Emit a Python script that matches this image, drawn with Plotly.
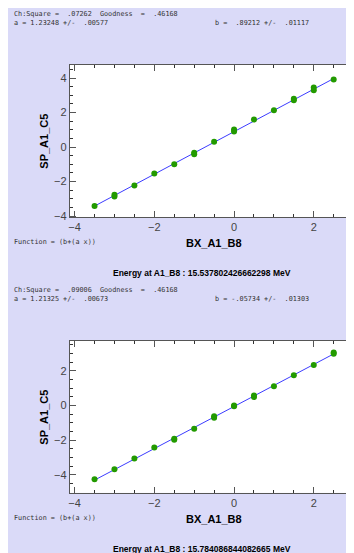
import plotly.graph_objects as go

# fit 1 (top panel)
x1 = [-3.5, -3, -3, -2.5, -2, -1.5, -1, -1, -0.5, 0, 0, 0.5, 1, 1.5, 1.5, 2, 2, 2.5]
y1 = [-3.42, -2.77, -2.87, -2.23, -1.54, -1.0, -0.33, -0.42, 0.31, 1.02, 0.9, 1.6,
      2.13, 2.8, 2.71, 3.46, 3.29, 3.92]
a1, b1 = 1.23248, 0.89212
chi1 = "Ch:Square =  .07262  Goodness  =  .46168"
a1_txt = "a = 1.23248 +/-  .00577"
b1_txt = "b =  .89212 +/-  .01117"
energy1 = "Energy at A1_B8 : 15.537802426662298 MeV"

# fit 2 (bottom panel)
x2 = [-3.5, -3, -2.5, -2, -1.5, -1.5, -1, -0.5, -0.5, 0, 0, 0.5, 0.5, 1, 1.5, 2, 2.5, 2.5]
y2 = [-4.25, -3.68, -3.06, -2.43, -1.92, -1.98, -1.34, -0.62, -0.7, -0.05, 0.0, 0.58,
      0.49, 1.11, 1.75, 2.34, 3.06, 2.98]
a2, b2 = 1.21325, -0.05734
chi2 = "Ch:Square =  .09006  Goodness  =  .46168"
a2_txt = "a = 1.21325 +/-  .00673"
b2_txt = "b = -.05734 +/-  .01303"
energy2 = "Energy at A1_B8 : 15.784086844082665 MeV"

func_txt = "Function = (b+(a x))"
xlabel = "BX_A1_B8"
ylabel = "SP_A1_C5"

W, H = 354, 553
BG = "#dadaf8"
GREEN = "#229a00"
BLUE = "#3c3cff"


def py(px):
    return 1 - px / H


def px_x(px):
    return px / W


fig = go.Figure()

panels = [
    (x1, y1, a1, b1, "x", "y"),
    (x2, y2, a2, b2, "x2", "y2"),
]
for xs, ys, a, b, xa, ya in panels:
    lx = [min(xs), max(xs)]
    fig.add_trace(go.Scatter(x=lx, y=[b + a * v for v in lx], mode="lines",
                             line=dict(color=BLUE, width=1), xaxis=xa, yaxis=ya,
                             showlegend=False, hoverinfo="skip"))
    fig.add_trace(go.Scatter(x=xs, y=ys, mode="markers",
                             marker=dict(color=GREEN, size=6), xaxis=xa, yaxis=ya,
                             showlegend=False))

axis_style = dict(
    showline=True, linecolor="#555555", linewidth=1, mirror="ticks",
    ticks="inside", ticklen=6, tickcolor="#555555", tickwidth=1,
    showgrid=False, zeroline=False,
    tickfont=dict(family="Liberation Sans", size=11, color="#444444"),
    minor=dict(ticks="inside", ticklen=3, dtick=0.5, tickcolor="#333333", showgrid=False),
)

dom_x = [px_x(61), px_x(350)]
fig.update_layout(
    width=W, height=H,
    margin=dict(l=0, r=0, t=0, b=0),
    paper_bgcolor=BG, plot_bgcolor="white",
    xaxis=dict(domain=dom_x, range=[-4.12, 3.11], dtick=2, anchor="y", **axis_style),
    yaxis=dict(domain=[py(211), py(57.3)], range=[-4.06, 4.77], dtick=2, anchor="x", **axis_style),
    xaxis2=dict(domain=dom_x, range=[-4.12, 3.11], dtick=2, anchor="y2", **axis_style),
    yaxis2=dict(domain=[py(489.3), py(335.7)], range=[-5.04, 3.74], dtick=2, anchor="x2", **axis_style),
)

small = dict(family="DejaVu Sans Mono", size=6.8, color="#333333")
bold = dict(family="Liberation Sans", size=11, color="black")


def note(text, x, y, font, xanchor="left", angle=0):
    text = text.replace("  ", "\u00a0\u00a0")
    fig.add_annotation(text=text, x=px_x(x), y=py(y), xref="paper", yref="paper",
                       showarrow=False, xanchor=xanchor, yanchor="middle",
                       font=font, textangle=angle)


texts = [
    (chi1, a1_txt, b1_txt, energy1, 0, 211),
    (chi2, a2_txt, b2_txt, energy2, 279, 489.3),
]
for chi, atxt, btxt, energy, top, axis_bottom in texts:
    note(chi, 3, top + 5.7, small)
    note(atxt, 3, top + 15, small)
    note(btxt, 205, top + 15, small)
    note(func_txt, 3, axis_bottom + 25, small)
    note("<b>" + xlabel + "</b>", 206, axis_bottom + 26, bold, xanchor="center")
    note("<b>" + energy + "</b>", 194, axis_bottom + 56.5,
         dict(family="Liberation Sans", size=8.5, color="black"), xanchor="center")

note("<b>" + ylabel + "</b>", 35, 134, bold, xanchor="center", angle=-90)
note("<b>" + ylabel + "</b>", 35, 412.5, bold, xanchor="center", angle=-90)

fig.write_html("out.html")
